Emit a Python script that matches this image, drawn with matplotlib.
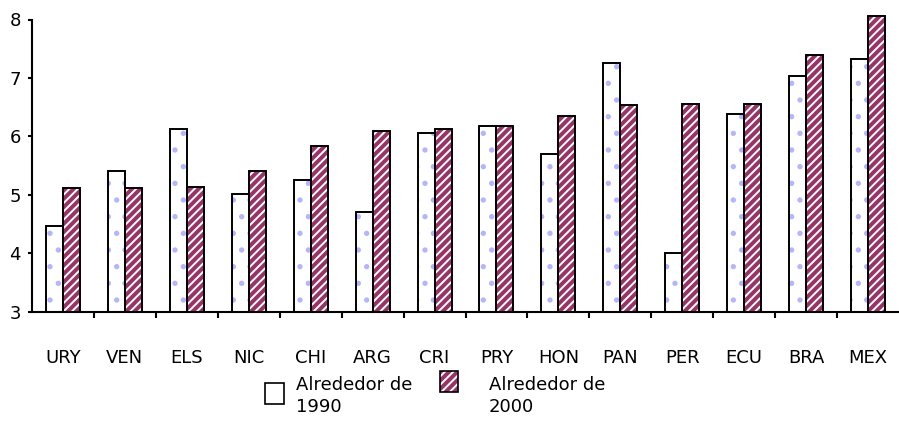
import matplotlib.pyplot as plt
import matplotlib.patches as mpatches
import numpy as np

# data
countries = ['URY', 'VEN', 'ELS', 'NIC', 'CHI', 'ARG', 'CRI', 'PRY', 'HON', 'PAN', 'PER', 'ECU', 'BRA', 'MEX']
around_1990 = [4.47, 5.40, 6.12, 5.02, 5.26, 4.70, 6.06, 6.18, 5.70, 7.26, 4.00, 6.39, 7.04, 7.32]
around_2000 = [5.11, 5.11, 5.14, 5.40, 5.84, 6.09, 6.12, 6.18, 6.35, 6.53, 6.56, 6.56, 7.39, 8.06]
labels = ['Alrededor de\n1990', 'Alrededor de\n2000']

maroon = '#993366'
dots = '#b4b4ff'

plt.rcParams['font.family'] = ['DejaVu Sans']
plt.rcParams['hatch.linewidth'] = 1.4

fig = plt.figure(figsize=(8.99, 4.21), dpi=100)
ax = fig.add_axes([32 / 899, 109.3 / 421, 867 / 899, 292.2 / 421])

x = np.arange(len(countries))
w = 0.274

# white dotted bars, then the maroon striped ones
ax.bar(x - w / 2, np.array(around_1990) - 3, w, bottom=3, color='white',
       edgecolor=dots, hatch='.', linewidth=0, clip_on=False)
ax.bar(x + w / 2, np.array(around_2000) - 3, w, bottom=3, color=maroon,
       edgecolor='white', hatch='////', linewidth=0, clip_on=False)
# outlines
ax.bar(x - w / 2, np.array(around_1990) - 3, w, bottom=3, fill=False,
       edgecolor='black', linewidth=1.4, clip_on=False)
ax.bar(x + w / 2, np.array(around_2000) - 3, w, bottom=3, fill=False,
       edgecolor='black', linewidth=1.4, clip_on=False)

ax.set_xlim(-0.5, len(countries) - 0.5)
ax.set_ylim(3, 8)

for side in ['top', 'right']:
    ax.spines[side].set_visible(False)
ax.spines['left'].set_linewidth(1.5)
ax.spines['bottom'].set_linewidth(1.5)

ax.set_yticks([3, 4, 5, 6, 7, 8])
ax.tick_params(axis='y', length=3, width=1.5, pad=5, labelsize=13)
ax.set_xticks(x)
ax.set_xticklabels(countries)
ax.tick_params(axis='x', which='major', length=0, pad=27, labelsize=13)
ax.set_xticks(x[:-1] + 0.5, minor=True)
ax.tick_params(axis='x', which='minor', length=4, width=1.5)

# legend boxes and texts placed under the axis
def px(xp, yp):
    return xp / 899, 1 - yp / 421

r1 = mpatches.Rectangle(px(265, 404), 19 / 899, 21 / 421, transform=fig.transFigure,
                        facecolor='white', edgecolor='black', linewidth=1.2)
r2 = mpatches.Rectangle(px(440, 392), 18 / 899, 21 / 421, transform=fig.transFigure,
                        facecolor=maroon, edgecolor='white', hatch='////', linewidth=0)
r2b = mpatches.Rectangle(px(440, 392), 18 / 899, 21 / 421, transform=fig.transFigure,
                         fill=False, edgecolor='black', linewidth=1.2)
fig.patches.extend([r1, r2, r2b])

fig.text(*px(296, 376), labels[0], fontsize=13, va='top', ha='left', linespacing=1.3)
fig.text(*px(489, 376), labels[1], fontsize=13, va='top', ha='left', linespacing=1.3)

fig.savefig('out.png', dpi=100)
